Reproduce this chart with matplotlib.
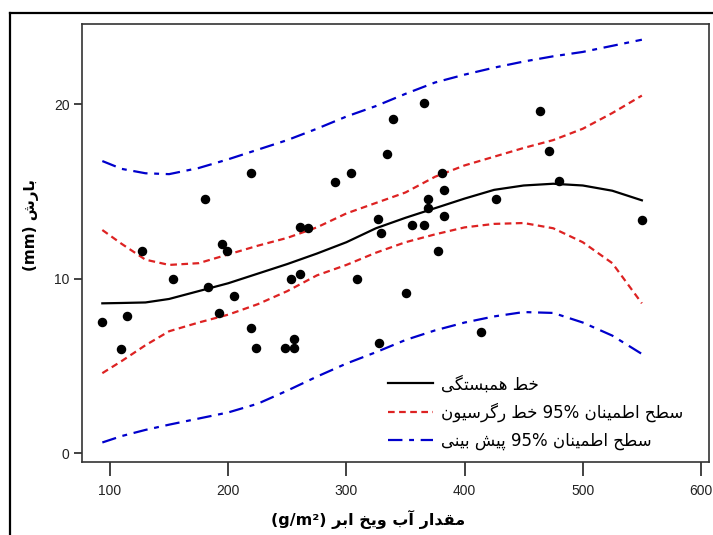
import matplotlib
matplotlib.use('Agg')
import matplotlib.pyplot as plt
from matplotlib.lines import Line2D

# scatter data
x_pts = [93.5, 109, 114.4, 127, 153.3, 180.4, 183.2, 194.5, 198.7, 192.2, 204.9, 219.3, 219.3,
         223.2, 247.7, 255.6, 255.6, 252.8, 260.7, 260.7, 267.8, 290.6, 303.6, 308.6, 326.9,
         329.1, 327.7, 334.5, 339.6, 366, 463.8, 471.7, 479.6, 381.2, 382.6, 369.3, 369.3,
         382.6, 355.2, 365.6, 426.6, 377.2, 350.2, 413.6, 550]
y_pts = [7.52, 5.97, 7.88, 11.57, 9.98, 14.59, 9.56, 12.0, 11.57, 8.07, 9.02, 16.06, 7.17,
         6.04, 6.04, 6.56, 6.04, 9.98, 10.27, 13.0, 12.9, 15.55, 16.06, 9.98, 13.44,
         12.62, 6.31, 17.13, 19.14, 20.1, 19.6, 17.3, 15.58, 16.06, 15.1, 14.59, 14.06,
         13.61, 13.08, 13.08, 14.57, 11.57, 9.21, 6.98, 13.4]

# fitted curve and bands
fit_x = [93.5, 110, 130, 150, 175, 200, 225, 250, 275, 300, 325, 350, 375, 400, 425, 450, 475, 500, 525, 550]
fit_y = [8.6, 8.62, 8.65, 8.85, 9.3, 9.75, 10.3, 10.85, 11.45, 12.1, 12.9, 13.5, 14.05, 14.6, 15.1, 15.35, 15.45, 15.35, 15.05, 14.5]
ci_hi = [12.8, 12.0, 11.1, 10.8, 10.9, 11.4, 11.9, 12.35, 12.95, 13.75, 14.35, 14.95, 15.85, 16.5, 17.0, 17.5, 17.95, 18.6, 19.5, 20.5]
ci_lo = [4.6, 5.3, 6.2, 7.0, 7.5, 7.95, 8.55, 9.3, 10.2, 10.8, 11.5, 12.1, 12.55, 12.95, 13.15, 13.2, 12.9, 12.1, 10.9, 8.6]
pi_hi = [16.75, 16.3, 16.05, 16.0, 16.35, 16.85, 17.4, 17.95, 18.6, 19.3, 19.9, 20.6, 21.25, 21.7, 22.1, 22.45, 22.75, 23.0, 23.35, 23.7]
pi_lo = [0.63, 1.0, 1.35, 1.65, 2.0, 2.35, 2.85, 3.6, 4.4, 5.15, 5.8, 6.5, 7.05, 7.5, 7.85, 8.1, 8.05, 7.5, 6.75, 5.7]

x_ticks = [100, 200, 300, 400, 500, 600]
y_ticks = [0, 10, 20]

xlabel_txt = 'مقدار آب ویخ ابر (g/m²)'
ylabel_txt = 'بارش (mm)'
leg_labels = ['خط همبستگی', 'سطح اطمینان 95% خط رگرسیون', 'سطح اطمینان 95% پیش بینی']

# minimal arabic/persian shaping: isolated, final, initial, medial
FORMS = {
    'ا': ('\uFE8D', '\uFE8E', None, None),
    'آ': ('\uFE81', '\uFE82', None, None),
    'د': ('\uFEA9', '\uFEAA', None, None),
    'ر': ('\uFEAD', '\uFEAE', None, None),
    'ز': ('\uFEAF', '\uFEB0', None, None),
    'و': ('\uFEED', '\uFEEE', None, None),
    'ب': ('\uFE8F', '\uFE90', '\uFE91', '\uFE92'),
    'پ': ('\uFB56', '\uFB57', '\uFB58', '\uFB59'),
    'ت': ('\uFE95', '\uFE96', '\uFE97', '\uFE98'),
    'ح': ('\uFEA1', '\uFEA2', '\uFEA3', '\uFEA4'),
    'خ': ('\uFEA5', '\uFEA6', '\uFEA7', '\uFEA8'),
    'س': ('\uFEB1', '\uFEB2', '\uFEB3', '\uFEB4'),
    'ش': ('\uFEB5', '\uFEB6', '\uFEB7', '\uFEB8'),
    'ط': ('\uFEC1', '\uFEC2', '\uFEC3', '\uFEC4'),
    'ق': ('\uFED5', '\uFED6', '\uFED7', '\uFED8'),
    'گ': ('\uFB92', '\uFB93', '\uFB94', '\uFB95'),
    'ل': ('\uFEDD', '\uFEDE', '\uFEDF', '\uFEE0'),
    'م': ('\uFEE1', '\uFEE2', '\uFEE3', '\uFEE4'),
    'ن': ('\uFEE5', '\uFEE6', '\uFEE7', '\uFEE8'),
    'ه': ('\uFEE9', '\uFEEA', '\uFEEB', '\uFEEC'),
    'ی': ('\uFBFC', '\uFBFD', '\uFBFE', '\uFBFF'),
}


def shape(word):
    out = []
    for i, ch in enumerate(word):
        if ch not in FORMS:
            out.append(ch)
            continue
        prev = word[i - 1] if i > 0 else None
        nxt = word[i + 1] if i + 1 < len(word) else None
        jp = prev in FORMS and FORMS[prev][2] is not None
        jn = nxt in FORMS and FORMS[ch][2] is not None
        iso, fin, ini, med = FORMS[ch]
        if jp and jn:
            out.append(med)
        elif jp:
            out.append(fin)
        elif jn:
            out.append(ini)
        else:
            out.append(iso)
    return ''.join(out)


def rtl(text):
    vis = []
    for w in reversed(text.split(' ')):
        if any('\u0600' <= c <= '\u06FF' for c in w):
            vis.append(shape(w)[::-1])
        else:
            vis.append(w)
    return ' '.join(vis)


plt.rcParams['font.family'] = ['DejaVu Sans']
fig = plt.figure(figsize=(7.13, 5.35), dpi=100)
ax = fig.add_axes([82 / 713, 1 - 461.5 / 535, 627 / 713, 437.5 / 535])

ax.plot(fit_x, fit_y, color='black', lw=1.6, label=rtl(leg_labels[0]))
ax.plot(fit_x, ci_hi, color='#dd2222', lw=1.6, ls=(0, (3, 2)), label=rtl(leg_labels[1]))
ax.plot(fit_x, ci_lo, color='#dd2222', lw=1.6, ls=(0, (3, 2)))
ax.plot(fit_x, pi_hi, color='#0000cc', lw=1.6, ls=(0, (6.5, 3, 2.2, 3)), label=rtl(leg_labels[2]))
ax.plot(fit_x, pi_lo, color='#0000cc', lw=1.6, ls=(0, (6.5, 3, 2.2, 3)))
ax.scatter(x_pts, y_pts, s=34, color='black', zorder=3)

ax.set_xlim(76.3, 606.8)
ax.set_ylim(-0.46, 24.6)
ax.set_xticks(x_ticks)
ax.set_yticks(y_ticks)
for lab in ax.get_xticklabels() + ax.get_yticklabels():
    lab.set_fontfamily('Liberation Sans')
ax.tick_params(axis='x', length=10, width=1.2, labelsize=10, colors='#222222', pad=6)
ax.tick_params(axis='y', length=6, width=1.2, labelsize=10, colors='#222222', pad=3)
for s in ax.spines.values():
    s.set_color('#333333')
    s.set_linewidth(1.2)

ax.set_xlabel(rtl(xlabel_txt), fontsize=11.5, fontweight='bold', labelpad=4)
ax.xaxis.set_label_coords(0.456, -0.11)
ax.set_ylabel(rtl(ylabel_txt), fontsize=11, fontweight='bold')
ax.yaxis.set_label_coords(-0.069, 0.54)

ax.legend(loc='upper left', bbox_to_anchor=(0.488, 0.197), frameon=False, fontsize=12,
          handlelength=2.7, handletextpad=0.5, labelspacing=0.58, borderpad=0, borderaxespad=0)

# outer frame
fig.add_artist(Line2D([10 / 713, 10 / 713], [0, 1 - 13 / 535], color='black', lw=1.6))
fig.add_artist(Line2D([10 / 713, 1], [1 - 13 / 535, 1 - 13 / 535], color='black', lw=1.6))

fig.savefig('out.png', dpi=100)
